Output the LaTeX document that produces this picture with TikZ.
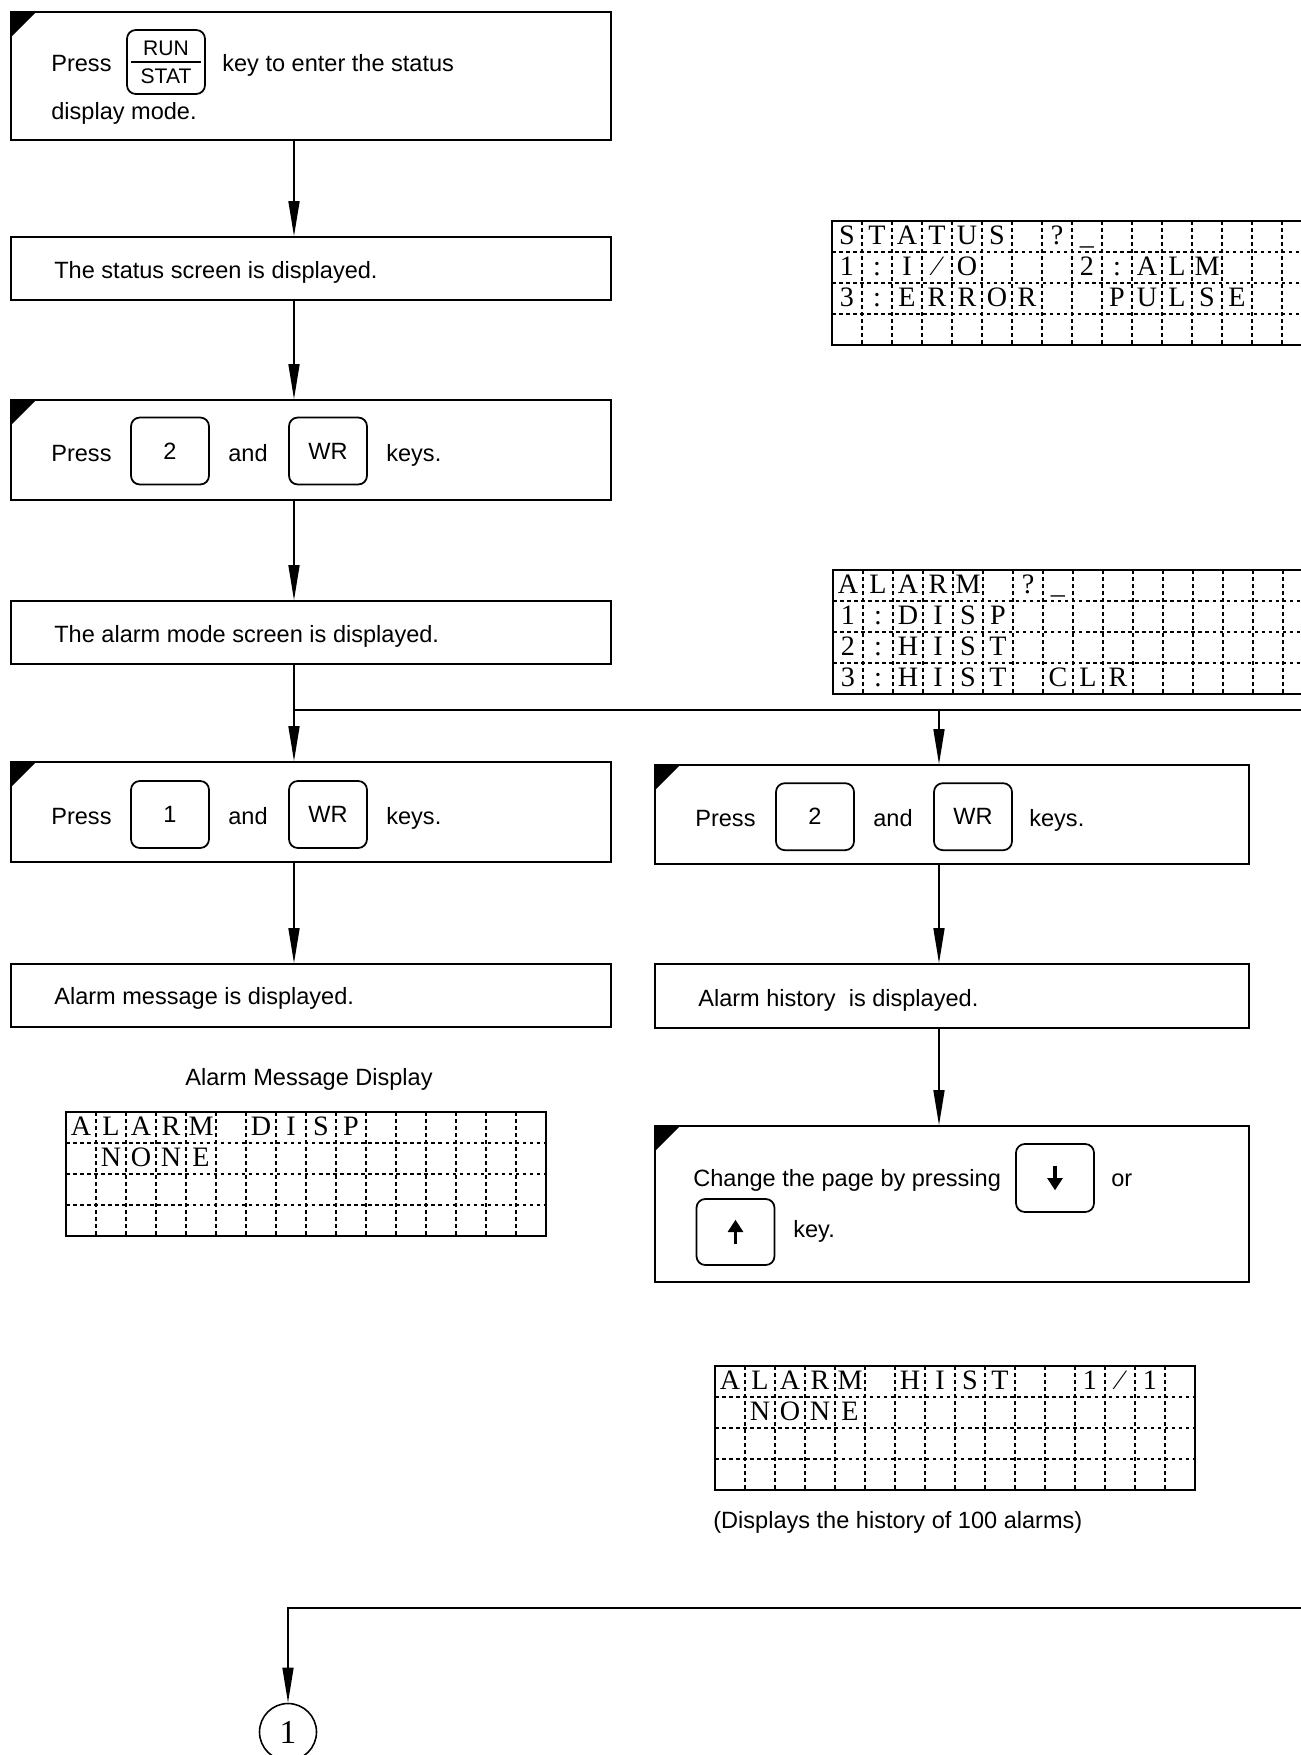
\documentclass[tikz,border=0pt]{standalone}
\usepackage{fontspec}
\setmainfont{Liberation Sans}
\newfontfamily\lcdfont{Liberation Serif}
\usetikzlibrary{arrows.meta}

\tikzset{
  box/.style={draw, line width=1pt, minimum width=12cm, inner sep=0pt},
  action/.style={box, path picture={\fill (path picture bounding box.north west)
      -- ++(0.5cm,0) -- ++(-0.5cm,-0.5cm) -- cycle;}},
  key/.style={draw, line width=1pt, rounded corners=5pt, minimum width=1.56cm,
      minimum height=1.34cm, inner sep=0pt},
  txt/.style={anchor=base west, inner sep=0pt},
  arr/.style={line width=0.9pt, -{Triangle[length=0.7cm,width=0.22cm]}},
  wire/.style={line width=0.9pt},
  lcdchar/.style={anchor=base, inner sep=0pt, font=\lcdfont\fontsize{16}{16}\selectfont},
  lcdline/.style={line width=0.6pt, dash pattern=on 2pt off 2pt},
  updown/.style={line width=1.8pt, -{Triangle[length=7pt,width=8.5pt]}},
}

% 16 x 4 character display
\newcommand{\lcdframe}{%
  \foreach \i in {1,...,15} \draw[lcdline] (\i*30,0) -- (\i*30,124);
  \foreach \j in {1,2,3} \draw[lcdline] (0,\j*31) -- (480,\j*31);
  \draw[line width=1pt] (0,0) rectangle (480,124);}
\newcommand{\lcdrow}[2]{%
  \foreach \c/\ch in {#2} \node[lcdchar] (r#1c\c) at ({(\c-0.5)*30},{(#1-1)*31+23}) {\ch};}
\newcommand{\fslash}{\symbol{"2044}}

\begin{document}
\begin{tikzpicture}[x=0.02cm, y=-0.02cm, font=\fontsize{13.4}{16}\selectfont]
\clip (0,0) rectangle (1301,1755);

\coordinate (split) at (294,710);
\coordinate (branch) at (939,710);
\coordinate (edge1) at (1310,710);
\coordinate (edge2) at (1310,1608);

% left column
\node[action, minimum height=2.56cm] (b1) at (311,76) {};
\node[txt] (t1a) at (51,71) {Press};
\node[key, minimum height=1.28cm, align=center, font=\fontsize{12}{14}\selectfont] (rs) at (166,62) {RUN\\[2pt]STAT};
\draw[line width=0.8pt] ([xshift=3pt]rs.west) -- ([xshift=-3pt]rs.east);
\node[txt] (t1b) at (222,71) {key to enter the status};
\node[txt] (t1c) at (51,119) {display mode.};

\node[box, minimum height=1.26cm] (b2) at (311,268.5) {};
\node[txt] (t2) at (54,278) {The status screen is displayed.};

\node[action, minimum height=2cm] (b3) at (311,450) {};
\node[txt] (t3a) at (51,461) {Press};
\node[key] (k3a) at (170,451) {2};
\node[txt] (t3b) at (228,461) {and};
\node[key] (k3b) at (328,451) {WR};
\node[txt] (t3c) at (386,461) {keys.};

\node[box, minimum height=1.26cm] (b4) at (311,632.5) {};
\node[txt] (t4) at (54,642) {The alarm mode screen is displayed.};

\node[action, minimum height=2cm] (b5l) at (311,812) {};
\node[txt] (t5a) at (51,824) {Press};
\node[key] (k5a) at (170,814.5) {1};
\node[txt] (t5b) at (228,824) {and};
\node[key] (k5b) at (328,814.5) {WR};
\node[txt] (t5c) at (386,824) {keys.};

\node[box, minimum height=1.26cm] (b6l) at (311,995.5) {};
\node[txt] (t6l) at (54,1004) {Alarm message is displayed.};

\node[anchor=base, inner sep=0pt] (cap1) at (309,1085) {Alarm Message Display};

% right column
\node[action, minimum width=11.88cm, minimum height=1.98cm] (b5r) at (952,814.5) {};
\node[txt] (t5d) at (695,826) {Press};
\node[key] (k5c) at (815,816.7) {2};
\node[txt] (t5e) at (873,826) {and};
\node[key] (k5d) at (973,816.7) {WR};
\node[txt] (t5f) at (1029,826) {keys.};

\node[box, minimum width=11.88cm, minimum height=1.28cm] (b6r) at (952,996) {};
\node[txt] (t6r) at (698,1006) {Alarm history\ \ is displayed.};

\node[action, minimum width=11.88cm, minimum height=3.12cm] (b7) at (952,1204) {};
\node[txt] (t7a) at (693,1186) {Change the page by pressing};
\node[key, minimum height=1.36cm] (dn) at (1055,1178) {};
\draw[updown] ([yshift=7pt]dn.center) -- ([yshift=-7pt]dn.center);
\node[txt] (t7b) at (1111,1186) {or};
\node[key, minimum height=1.32cm] (up) at (735.5,1232) {};
\draw[updown] ([yshift=-7pt]up.center) -- ([yshift=7pt]up.center);
\node[txt] (t7c) at (793,1237) {key.};

\node[txt] (cap2) at (713,1528) {(Displays the history of 100 alarms)};

% connectors
\draw[arr] (b1.south -| split) -- (b2.north -| split);
\draw[arr] (b2.south -| split) -- (b3.north -| split);
\draw[arr] (b3.south -| split) -- (b4.north -| split);
\draw[wire] (b4.south -| split) -- (split) -- (edge1);
\draw[arr] (split) -- (b5l.north -| split);
\draw[arr] (branch) -- (b5r.north -| branch);
\draw[arr] (b5l.south -| split) -- (b6l.north -| split);
\draw[arr] (b5r.south -| branch) -- (b6r.north -| branch);
\draw[arr] (b6r.south -| branch) -- (b7.north -| branch);

\node[draw, circle, line width=0.9pt, minimum size=1.14cm, inner sep=0pt,
  font=\lcdfont\fontsize{19}{19}\selectfont] (c1) at (288,1732) {1};
\draw[arr] (edge2) -| (c1);

% displays
\begin{scope}[shift={(832,221)}, name prefix=st-]
\lcdframe
\lcdrow{1}{1/S,2/T,3/A,4/T,5/U,6/S,8/?,9/\_}
\lcdrow{2}{1/1,2/:,3/I,4/\fslash,5/O,9/2,10/:,11/A,12/L,13/M}
\lcdrow{3}{1/3,2/:,3/E,4/R,5/R,6/O,7/R,10/P,11/U,12/L,13/S,14/E}
\end{scope}

\begin{scope}[shift={(833,570)}, name prefix=al-]
\lcdframe
\lcdrow{1}{1/A,2/L,3/A,4/R,5/M,7/?,8/\_}
\lcdrow{2}{1/1,2/:,3/D,4/I,5/S,6/P}
\lcdrow{3}{1/2,2/:,3/H,4/I,5/S,6/T}
\lcdrow{4}{1/3,2/:,3/H,4/I,5/S,6/T,8/C,9/L,10/R}
\end{scope}

\begin{scope}[shift={(66,1112)}, name prefix=ds-]
\lcdframe
\lcdrow{1}{1/A,2/L,3/A,4/R,5/M,7/D,8/I,9/S,10/P}
\lcdrow{2}{2/N,3/O,4/N,5/E}
\end{scope}

\begin{scope}[shift={(715,1366)}, name prefix=hs-]
\lcdframe
\lcdrow{1}{1/A,2/L,3/A,4/R,5/M,7/H,8/I,9/S,10/T,13/1,14/\fslash,15/1}
\lcdrow{2}{2/N,3/O,4/N,5/E}
\end{scope}
\end{tikzpicture}
\end{document}
